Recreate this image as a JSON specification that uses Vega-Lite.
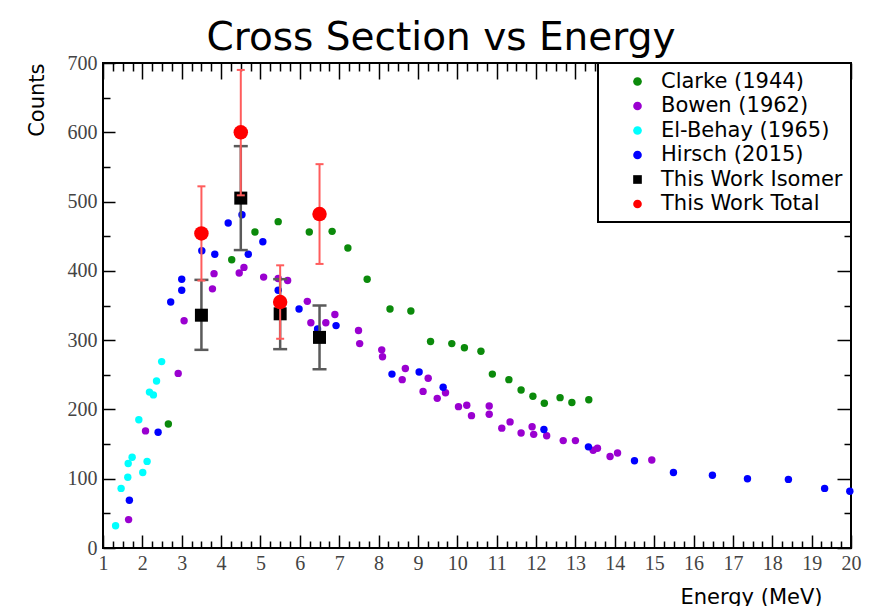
{
  "$schema": "https://vega.github.io/schema/vega-lite/v6.json",
  "autosize": {"type": "none"},
  "width": 748,
  "height": 485,
  "padding": {"left": 103, "top": 63, "right": 20, "bottom": 58},
  "background": "white",
  "title": {
    "text": "Cross Section vs Energy",
    "font": "DejaVu Sans",
    "fontSize": 39,
    "fontWeight": "normal",
    "color": "black",
    "anchor": "middle",
    "dx": -36,
    "dy": 17,
    "offset": 12
  },
  "datasets": {
    "lit": [
      {"series": "Clarke (1944)", "E": 2.66, "C": 179},
      {"series": "Clarke (1944)", "E": 4.27, "C": 416},
      {"series": "Clarke (1944)", "E": 4.86, "C": 456},
      {"series": "Clarke (1944)", "E": 5.45, "C": 471},
      {"series": "Clarke (1944)", "E": 6.24, "C": 456},
      {"series": "Clarke (1944)", "E": 6.82, "C": 457},
      {"series": "Clarke (1944)", "E": 7.22, "C": 433},
      {"series": "Clarke (1944)", "E": 7.71, "C": 388},
      {"series": "Clarke (1944)", "E": 8.29, "C": 345},
      {"series": "Clarke (1944)", "E": 8.82, "C": 342},
      {"series": "Clarke (1944)", "E": 9.32, "C": 298},
      {"series": "Clarke (1944)", "E": 9.86, "C": 295},
      {"series": "Clarke (1944)", "E": 10.18, "C": 289},
      {"series": "Clarke (1944)", "E": 10.6, "C": 284},
      {"series": "Clarke (1944)", "E": 10.89, "C": 251},
      {"series": "Clarke (1944)", "E": 11.31, "C": 243},
      {"series": "Clarke (1944)", "E": 11.62, "C": 228},
      {"series": "Clarke (1944)", "E": 11.92, "C": 219},
      {"series": "Clarke (1944)", "E": 12.21, "C": 209},
      {"series": "Clarke (1944)", "E": 12.61, "C": 217},
      {"series": "Clarke (1944)", "E": 12.91, "C": 210},
      {"series": "Clarke (1944)", "E": 13.34, "C": 214},
      {"series": "Bowen (1962)", "E": 1.65, "C": 41},
      {"series": "Bowen (1962)", "E": 2.08, "C": 169},
      {"series": "Bowen (1962)", "E": 2.91, "C": 252},
      {"series": "Bowen (1962)", "E": 3.06, "C": 328},
      {"series": "Bowen (1962)", "E": 3.78, "C": 374},
      {"series": "Bowen (1962)", "E": 3.82, "C": 396},
      {"series": "Bowen (1962)", "E": 4.46, "C": 397},
      {"series": "Bowen (1962)", "E": 4.58, "C": 405},
      {"series": "Bowen (1962)", "E": 5.08, "C": 391},
      {"series": "Bowen (1962)", "E": 5.45, "C": 389},
      {"series": "Bowen (1962)", "E": 5.69, "C": 386},
      {"series": "Bowen (1962)", "E": 6.19, "C": 356},
      {"series": "Bowen (1962)", "E": 6.28, "C": 325},
      {"series": "Bowen (1962)", "E": 6.66, "C": 325},
      {"series": "Bowen (1962)", "E": 6.89, "C": 337},
      {"series": "Bowen (1962)", "E": 7.49, "C": 314},
      {"series": "Bowen (1962)", "E": 7.52, "C": 295},
      {"series": "Bowen (1962)", "E": 8.08, "C": 286},
      {"series": "Bowen (1962)", "E": 8.1, "C": 276},
      {"series": "Bowen (1962)", "E": 8.68, "C": 259},
      {"series": "Bowen (1962)", "E": 8.6, "C": 243},
      {"series": "Bowen (1962)", "E": 9.26, "C": 245},
      {"series": "Bowen (1962)", "E": 9.13, "C": 226},
      {"series": "Bowen (1962)", "E": 9.49, "C": 216},
      {"series": "Bowen (1962)", "E": 9.7, "C": 224},
      {"series": "Bowen (1962)", "E": 10.03, "C": 204},
      {"series": "Bowen (1962)", "E": 10.24, "C": 206},
      {"series": "Bowen (1962)", "E": 10.36, "C": 191},
      {"series": "Bowen (1962)", "E": 10.81, "C": 205},
      {"series": "Bowen (1962)", "E": 10.81, "C": 193},
      {"series": "Bowen (1962)", "E": 11.13, "C": 173},
      {"series": "Bowen (1962)", "E": 11.34, "C": 182},
      {"series": "Bowen (1962)", "E": 11.62, "C": 166},
      {"series": "Bowen (1962)", "E": 11.9, "C": 175},
      {"series": "Bowen (1962)", "E": 11.94, "C": 164},
      {"series": "Bowen (1962)", "E": 12.27, "C": 162},
      {"series": "Bowen (1962)", "E": 12.69, "C": 155},
      {"series": "Bowen (1962)", "E": 13.0, "C": 155},
      {"series": "Bowen (1962)", "E": 13.45, "C": 141},
      {"series": "Bowen (1962)", "E": 13.56, "C": 144},
      {"series": "Bowen (1962)", "E": 13.88, "C": 132},
      {"series": "Bowen (1962)", "E": 14.07, "C": 137},
      {"series": "Bowen (1962)", "E": 14.94, "C": 127},
      {"series": "El-Behay (1965)", "E": 1.32, "C": 32},
      {"series": "El-Behay (1965)", "E": 1.46, "C": 86},
      {"series": "El-Behay (1965)", "E": 1.63, "C": 102},
      {"series": "El-Behay (1965)", "E": 1.64, "C": 122},
      {"series": "El-Behay (1965)", "E": 1.74, "C": 131},
      {"series": "El-Behay (1965)", "E": 1.91, "C": 185},
      {"series": "El-Behay (1965)", "E": 2.01, "C": 109},
      {"series": "El-Behay (1965)", "E": 2.12, "C": 125},
      {"series": "El-Behay (1965)", "E": 2.18, "C": 225},
      {"series": "El-Behay (1965)", "E": 2.28, "C": 221},
      {"series": "El-Behay (1965)", "E": 2.36, "C": 241},
      {"series": "El-Behay (1965)", "E": 2.49, "C": 269},
      {"series": "Hirsch (2015)", "E": 1.67, "C": 69},
      {"series": "Hirsch (2015)", "E": 2.4, "C": 167},
      {"series": "Hirsch (2015)", "E": 2.72, "C": 355},
      {"series": "Hirsch (2015)", "E": 3.0, "C": 388},
      {"series": "Hirsch (2015)", "E": 3.0, "C": 372},
      {"series": "Hirsch (2015)", "E": 3.51, "C": 429},
      {"series": "Hirsch (2015)", "E": 3.84, "C": 424},
      {"series": "Hirsch (2015)", "E": 4.18, "C": 469},
      {"series": "Hirsch (2015)", "E": 4.53, "C": 481},
      {"series": "Hirsch (2015)", "E": 4.69, "C": 424},
      {"series": "Hirsch (2015)", "E": 5.06, "C": 442},
      {"series": "Hirsch (2015)", "E": 5.45, "C": 372},
      {"series": "Hirsch (2015)", "E": 5.98, "C": 345},
      {"series": "Hirsch (2015)", "E": 6.45, "C": 316},
      {"series": "Hirsch (2015)", "E": 6.92, "C": 321},
      {"series": "Hirsch (2015)", "E": 8.34, "C": 251},
      {"series": "Hirsch (2015)", "E": 9.03, "C": 254},
      {"series": "Hirsch (2015)", "E": 9.64, "C": 232},
      {"series": "Hirsch (2015)", "E": 12.2, "C": 171},
      {"series": "Hirsch (2015)", "E": 13.33, "C": 146},
      {"series": "Hirsch (2015)", "E": 14.5, "C": 126},
      {"series": "Hirsch (2015)", "E": 15.49, "C": 109},
      {"series": "Hirsch (2015)", "E": 16.48, "C": 105},
      {"series": "Hirsch (2015)", "E": 17.37, "C": 100},
      {"series": "Hirsch (2015)", "E": 18.41, "C": 99},
      {"series": "Hirsch (2015)", "E": 19.33, "C": 86},
      {"series": "Hirsch (2015)", "E": 19.97, "C": 82}
    ],
    "work": [
      {"series": "This Work Isomer", "E": 3.5, "C": 336, "lo": 286, "hi": 387},
      {"series": "This Work Isomer", "E": 4.5, "C": 505, "lo": 430, "hi": 580},
      {"series": "This Work Isomer", "E": 5.5, "C": 338, "lo": 287, "hi": 388},
      {"series": "This Work Isomer", "E": 6.5, "C": 304, "lo": 258, "hi": 350},
      {"series": "This Work Total", "E": 3.5, "C": 454, "lo": 386, "hi": 522},
      {"series": "This Work Total", "E": 4.5, "C": 600, "lo": 509, "hi": 690},
      {"series": "This Work Total", "E": 5.5, "C": 355, "lo": 302, "hi": 408},
      {"series": "This Work Total", "E": 6.5, "C": 482, "lo": 410, "hi": 554}
    ]
  },
  "resolve": {"axis": {"x": "independent", "y": "independent"}},
  "layer": [
    {
      "data": {"name": "lit"},
      "mark": {"type": "point", "filled": true, "opacity": 1, "size": 55},
      "encoding": {
        "x": {
          "field": "E", "type": "quantitative",
          "scale": {"domain": [1, 20], "nice": false, "zero": false},
          "axis": {
            "orient": "bottom",
            "values": [1,2,3,4,5,6,7,8,9,10,11,12,13,14,15,16,17,18,19,20],
            "tickSize": -13,
            "labelPadding": 18,
            "labelFlush": false,
            "labelOverlap": false,
            "title": "Energy (MeV)",
            "titleAnchor": "end",
            "titleAlign": "right",
            "titleX": 719,
            "titleY": 55,
            "titleBaseline": "alphabetic"
          }
        },
        "y": {
          "field": "C", "type": "quantitative",
          "scale": {"domain": [0, 700], "nice": false, "zero": false},
          "axis": {
            "orient": "left",
            "values": [0,100,200,300,400,500,600,700],
            "tickSize": -12,
            "labelPadding": 18,
            "labelFlush": false,
            "labelOverlap": false,
            "title": "Counts",
            "titleAnchor": "end",
            "titleAlign": "right",
            "titleAngle": -90,
            "titleX": -60,
            "titleY": 0,
            "titleBaseline": "alphabetic"
          }
        },
        "color": {
          "field": "series", "type": "nominal",
          "scale": {
            "domain": ["Clarke (1944)", "Bowen (1962)", "El-Behay (1965)", "Hirsch (2015)", "This Work Isomer", "This Work Total"],
            "range": ["#0b8a0b", "#9a00d0", "#00ffff", "#0000ff", "#000000", "#ff0000"]
          },
          "legend": {"title": null}
        },
        "shape": {
          "field": "series", "type": "nominal",
          "scale": {
            "domain": ["Clarke (1944)", "Bowen (1962)", "El-Behay (1965)", "Hirsch (2015)", "This Work Isomer", "This Work Total"],
            "range": ["circle", "circle", "circle", "circle", "square", "circle"]
          },
          "legend": {"title": null}
        }
      }
    },
    {
      "data": {"name": "work"},
      "transform": [{"filter": "datum.series === 'This Work Isomer'"}],
      "mark": {"type": "rule", "color": "#5a5a5a", "strokeWidth": 2.5},
      "encoding": {
        "x": {
          "field": "E", "type": "quantitative",
          "axis": {
            "orient": "top",
            "values": [1,2,3,4,5,6,7,8,9,10,11,12,13,14,15,16,17,18,19,20],
            "tickSize": -16,
            "labels": false,
            "title": null
          }
        },
        "y": {
          "field": "lo", "type": "quantitative",
          "axis": {
            "orient": "right",
            "values": [0,100,200,300,400,500,600,700],
            "tickSize": -14,
            "labels": false,
            "title": null
          }
        },
        "y2": {"field": "hi"}
      }
    },
    {
      "data": {"name": "work"},
      "transform": [{"filter": "datum.series === 'This Work Isomer'"}],
      "mark": {"type": "tick", "orient": "horizontal", "color": "#5a5a5a", "size": 14, "thickness": 2.5, "opacity": 1},
      "encoding": {
        "x": {
          "field": "E", "type": "quantitative",
          "axis": {
            "orient": "bottom",
            "values": [1.25,1.5,1.75,2.25,2.5,2.75,3.25,3.5,3.75,4.25,4.5,4.75,5.25,5.5,5.75,6.25,6.5,6.75,7.25,7.5,7.75,8.25,8.5,8.75,9.25,9.5,9.75,10.25,10.5,10.75,11.25,11.5,11.75,12.25,12.5,12.75,13.25,13.5,13.75,14.25,14.5,14.75,15.25,15.5,15.75,16.25,16.5,16.75,17.25,17.5,17.75,18.25,18.5,18.75,19.25,19.5,19.75],
            "tickSize": -7,
            "labels": false,
            "title": null
          }
        },
        "y": {
          "field": "lo", "type": "quantitative",
          "axis": {
            "orient": "left",
            "values": [50,150,250,350,450,550,650],
            "tickSize": -7,
            "labels": false,
            "title": null
          }
        }
      }
    },
    {
      "data": {"name": "work"},
      "transform": [{"filter": "datum.series === 'This Work Isomer'"}],
      "mark": {"type": "tick", "orient": "horizontal", "color": "#5a5a5a", "size": 14, "thickness": 2.5, "opacity": 1},
      "encoding": {
        "x": {
          "field": "E", "type": "quantitative",
          "axis": {
            "orient": "top",
            "values": [1.25,1.5,1.75,2.25,2.5,2.75,3.25,3.5,3.75,4.25,4.5,4.75,5.25,5.5,5.75,6.25,6.5,6.75,7.25,7.5,7.75,8.25,8.5,8.75,9.25,9.5,9.75,10.25,10.5,10.75,11.25,11.5,11.75,12.25,12.5,12.75,13.25,13.5,13.75,14.25,14.5,14.75,15.25,15.5,15.75,16.25,16.5,16.75,17.25,17.5,17.75,18.25,18.5,18.75,19.25,19.5,19.75],
            "tickSize": -8,
            "labels": false,
            "title": null
          }
        },
        "y": {
          "field": "hi", "type": "quantitative",
          "axis": {
            "orient": "right",
            "values": [50,150,250,350,450,550,650],
            "tickSize": -7,
            "labels": false,
            "title": null
          }
        }
      }
    },
    {
      "data": {"name": "work"},
      "transform": [{"filter": "datum.series === 'This Work Isomer'"}],
      "mark": {"type": "point", "filled": true, "opacity": 1, "size": 169},
      "encoding": {
        "x": {"field": "E", "type": "quantitative", "axis": null},
        "y": {"field": "C", "type": "quantitative", "axis": null},
        "color": {"field": "series", "type": "nominal"},
        "shape": {"field": "series", "type": "nominal"}
      }
    },
    {
      "data": {"name": "work"},
      "transform": [{"filter": "datum.series === 'This Work Total'"}],
      "mark": {"type": "rule", "color": "#ff5c5c", "strokeWidth": 2},
      "encoding": {
        "x": {"field": "E", "type": "quantitative", "axis": null},
        "y": {"field": "lo", "type": "quantitative", "axis": null},
        "y2": {"field": "hi"}
      }
    },
    {
      "data": {"name": "work"},
      "transform": [{"filter": "datum.series === 'This Work Total'"}],
      "mark": {"type": "tick", "orient": "horizontal", "color": "#ff5c5c", "size": 8, "thickness": 2, "opacity": 1},
      "encoding": {
        "x": {"field": "E", "type": "quantitative", "axis": null},
        "y": {"field": "lo", "type": "quantitative", "axis": null}
      }
    },
    {
      "data": {"name": "work"},
      "transform": [{"filter": "datum.series === 'This Work Total'"}],
      "mark": {"type": "tick", "orient": "horizontal", "color": "#ff5c5c", "size": 8, "thickness": 2, "opacity": 1},
      "encoding": {
        "x": {"field": "E", "type": "quantitative", "axis": null},
        "y": {"field": "hi", "type": "quantitative", "axis": null}
      }
    },
    {
      "data": {"name": "work"},
      "transform": [{"filter": "datum.series === 'This Work Total'"}],
      "mark": {"type": "point", "filled": true, "opacity": 1, "size": 210},
      "encoding": {
        "x": {"field": "E", "type": "quantitative", "axis": null},
        "y": {"field": "C", "type": "quantitative", "axis": null},
        "color": {"field": "series", "type": "nominal"},
        "shape": {"field": "series", "type": "nominal"}
      }
    }
  ],
  "config": {
    "view": {"stroke": "black", "strokeWidth": 2},
    "axis": {
      "domain": false,
      "grid": false,
      "tickColor": "black",
      "tickWidth": 1.5,
      "labelFont": "Liberation Serif",
      "labelFontSize": 20,
      "labelColor": "#444444",
      "titleFont": "DejaVu Sans",
      "titleFontSize": 21,
      "titleFontWeight": "normal",
      "titleColor": "black"
    },
    "legend": {
      "orient": "none",
      "legendX": 495,
      "legendY": 0,
      "fillColor": "white",
      "strokeColor": "black",
      "strokeWidth": 2,
      "padding": 8,
      "symbolOffset": 21,
      "labelOffset": 13,
      "rowPadding": 2.5,
      "symbolSize": 75,
      "labelLimit": 400,
      "labelFont": "DejaVu Sans",
      "labelFontSize": 21,
      "labelColor": "black",
      "symbolStrokeWidth": 0
    }
  }
}
